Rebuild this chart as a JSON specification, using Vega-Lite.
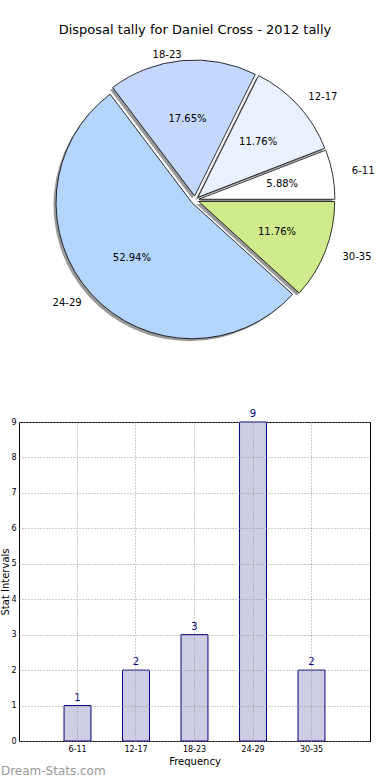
{
  "$schema": "https://vega.github.io/schema/vega-lite/v6.json",
  "padding": {"left": 0, "top": 24, "right": 0, "bottom": 0},
  "bounds": "flush",
  "spacing": 82,
  "config": {
    "font": "DejaVu Sans",
    "view": {"stroke": null},
    "title": {"font": "DejaVu Sans"},
    "axis": {"labelFont": "DejaVu Sans", "titleFont": "DejaVu Sans", "labelColor": "#000", "titleColor": "#000"}
  },
  "vconcat": [
    {
      "width": 352,
      "height": 280,
      "title": {"text": "Disposal tally for Daniel Cross - 2012 tally", "fontSize": 13, "fontWeight": "normal", "frame": "group", "anchor": "middle", "baseline": "bottom", "offset": 0, "color": "#000"},
      "data": {"values": [
        {"range": "6-11", "lo": 6, "n": 1, "pct": "5.88%"},
        {"range": "12-17", "lo": 12, "n": 2, "pct": "11.76%"},
        {"range": "18-23", "lo": 18, "n": 3, "pct": "17.65%"},
        {"range": "24-29", "lo": 24, "n": 9, "pct": "52.94%"},
        {"range": "30-35", "lo": 30, "n": 2, "pct": "11.76%"}
      ]},
      "transform": [{"joinaggregate": [{"op": "sum", "field": "n", "as": "total"}]}],
      "encoding": {
        "theta": {"field": "n", "type": "quantitative", "stack": true, "scale": {"range": [1.5707963, -4.712389]}},
        "order": {"field": "lo", "type": "quantitative", "sort": "ascending"}
      },
      "layer": [
        {
          "mark": {"type": "arc", "radius": 136, "color": "#333", "opacity": 0.5,
            "xOffset": {"expr": "4*cos(PI*(datum.n_start+datum.n_end)/datum.total)-2.5"},
            "yOffset": {"expr": "-4*sin(PI*(datum.n_start+datum.n_end)/datum.total)+2.5"}},
          "encoding": {"detail": {"field": "range", "type": "nominal"}}
        },
        {
          "mark": {"type": "arc", "radius": 136, "stroke": "#000", "strokeWidth": 0.8,
            "xOffset": {"expr": "4*cos(PI*(datum.n_start+datum.n_end)/datum.total)"},
            "yOffset": {"expr": "-4*sin(PI*(datum.n_start+datum.n_end)/datum.total)"}},
          "encoding": {"color": {"field": "range", "type": "nominal",
            "scale": {"domain": ["6-11", "12-17", "18-23", "24-29", "30-35"], "range": ["#ffffff", "#e9f0fe", "#c4d8fe", "#b4d5fe", "#cfeb8c"]},
            "legend": null}}
        },
        {
          "mark": {"type": "text", "fontSize": 10, "color": "#000",
            "radius": {"expr": "sqrt(pow(85*cos(PI*(datum.n_start+datum.n_end)/datum.total),2)+pow(77*sin(PI*(datum.n_start+datum.n_end)/datum.total),2))"},
            "xOffset": {"expr": "4*cos(PI*(datum.n_start+datum.n_end)/datum.total)"},
            "yOffset": {"expr": "-4*sin(PI*(datum.n_start+datum.n_end)/datum.total)"}},
          "encoding": {"text": {"field": "pct", "type": "nominal"}, "detail": {"field": "range", "type": "nominal"}}
        },
        {
          "mark": {"type": "text", "fontSize": 10, "color": "#000",
            "radius": {"expr": "sqrt(pow(156*cos(PI*(datum.n_start+datum.n_end)/datum.total),2)+pow(141*sin(PI*(datum.n_start+datum.n_end)/datum.total),2))"},
            "align": {"expr": "cos(PI*(datum.n_start+datum.n_end)/datum.total) < 0 ? 'right' : 'left'"},
            "xOffset": {"expr": "4*cos(PI*(datum.n_start+datum.n_end)/datum.total)"},
            "yOffset": {"expr": "-4*sin(PI*(datum.n_start+datum.n_end)/datum.total)"}},
          "encoding": {"text": {"field": "range", "type": "nominal"}, "detail": {"field": "range", "type": "nominal"}}
        }
      ]
    },
    {
      "width": 351,
      "height": 319,
      "view": {"stroke": "#000", "strokeWidth": 1},
      "title": {"text": "Dream-Stats.com", "orient": "bottom", "anchor": "start", "frame": "bounds", "fontSize": 12, "fontWeight": "normal", "color": "#999", "offset": 0},
      "data": {"values": [
        {"range": "6-11", "n": 1},
        {"range": "12-17", "n": 2},
        {"range": "18-23", "n": 3},
        {"range": "24-29", "n": 9},
        {"range": "30-35", "n": 2}
      ]},
      "encoding": {
        "x": {"field": "range", "type": "nominal", "sort": ["6-11", "12-17", "18-23", "24-29", "30-35"],
          "scale": {"paddingInner": 0.54, "paddingOuter": 0.77},
          "axis": {"title": "Frequency", "labelAngle": 0, "grid": true, "gridDash": [1, 2], "gridColor": "#999", "bandPosition": 0.5, "ticks": false, "domain": false, "labelFontSize": 8, "labelPadding": 4, "titleFontSize": 10, "titleFontWeight": "normal", "titlePadding": 3, "zindex": 1}},
        "y": {"field": "n", "type": "quantitative", "scale": {"domain": [0, 9]},
          "axis": {"title": "Stat Intervals", "values": [0, 1, 2, 3, 4, 5, 6, 7, 8, 9], "grid": true, "gridDash": [1, 2], "gridColor": "#999", "ticks": false, "domain": false, "labelFontSize": 8, "labelPadding": 3, "titleFontSize": 10, "titleFontWeight": "normal", "titlePadding": 0, "zindex": 1}}
      },
      "layer": [
        {"mark": {"type": "bar", "fill": "#cdcde3", "stroke": "#000080", "strokeWidth": 1}},
        {"mark": {"type": "text", "baseline": "bottom", "dy": -3, "fontSize": 10, "color": "#000080"}, "encoding": {"text": {"field": "n", "type": "quantitative"}}}
      ]
    }
  ]
}
